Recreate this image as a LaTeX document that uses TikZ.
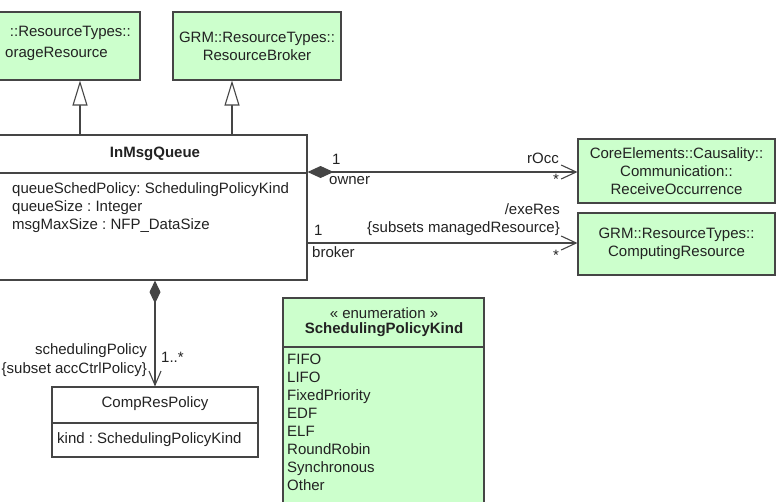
\documentclass[tikz,border=0pt]{standalone}
\usepackage{fontspec}
\setmainfont{Liberation Sans}
\usetikzlibrary{arrows.meta,calc}
\definecolor{boxgreen}{HTML}{CCFFCC}
\definecolor{linegray}{HTML}{454545}
\definecolor{txt}{HTML}{222222}
\frenchspacing
\begin{document}
\begin{tikzpicture}[x=1pt,y=-1pt,
  every node/.style={font=\fontsize{15}{18}\selectfont, text=txt, inner sep=0pt},
  greenbox/.style={draw=linegray, fill=boxgreen, line width=1.1pt, rectangle, align=center},
  whitebox/.style={draw=linegray, fill=white, line width=1.1pt, rectangle},
  conn/.style={draw=linegray, line width=1.1pt},
  gen/.style={conn, -{Triangle[open, length=25pt, width=15pt, fill=white]}},
  assoc/.style={conn, {Diamond[length=26pt, width=12pt]}-{Straight Barb[length=15pt, width=14pt, line width=1.1pt]}},
  plainassoc/.style={conn, -{Straight Barb[length=15pt, width=14pt, line width=1.1pt]}},
  vcomp/.style={conn, {Diamond[length=23pt, width=11pt]}-{Straight Barb[length=14pt, width=12pt, line width=1.1pt]}},
  boldtxt/.style={font=\fontsize{15}{18}\selectfont\bfseries}
]
\useasboundingbox (0,0) rectangle (776,501);
\clip (0,0) rectangle (776,501);

% coordinates for connector positions
\coordinate (g1) at (80,0);
\coordinate (g2) at (232,0);
\coordinate (a1) at (0,172);
\coordinate (a2) at (0,243);
\coordinate (v1) at (155,0);
\coordinate (s1) at (0,173);
\coordinate (s2) at (0,423);
\coordinate (s3) at (0,347);

% boxes
\node[greenbox, minimum width=180pt, minimum height=68pt] (sr) at (50,46) {};
\node[anchor=mid east] (srt1) at (131,34) {::ResourceTypes::};
\node[anchor=mid east] (srt2) at (108,55) {orageResource};
\node[greenbox, minimum width=168pt, minimum height=68pt] (rb) at (257,46) {GRM::ResourceTypes::\\ResourceBroker};
\node[whitebox, minimum width=322pt, minimum height=145pt] (imq) at (146,207.5) {};
\node[greenbox, minimum width=197pt, minimum height=64pt] (ro) at (676.5,171) {CoreElements::Causality::\\Communication::\\ReceiveOccurrence};
\node[greenbox, minimum width=197pt, minimum height=62pt] (cr) at (676.5,244) {GRM::ResourceTypes::\\ComputingResource};
\node[whitebox, minimum width=206pt, minimum height=70pt] (crp) at (155,422) {};
\node[greenbox, minimum width=201pt, minimum height=222pt] (spk) at (383.5,409) {};

% compartments
\draw[conn] (imq.west |- s1) -- (imq.east |- s1);
\draw[conn] (crp.west |- s2) -- (crp.east |- s2);
\draw[conn] (spk.west |- s3) -- (spk.east |- s3);

% InMsgQueue texts
\node[boldtxt] (imqt) at (155,154) {InMsgQueue};
\node[anchor=mid west] (at1) at (12,191) {queueSchedPolicy: SchedulingPolicyKind};
\node[anchor=mid west] (at2) at (12,209) {queueSize : Integer};
\node[anchor=mid west] (at3) at (12,227) {msgMaxSize : NFP\_DataSize};

% CompResPolicy texts
\node (crpt) at (155,404) {CompResPolicy};
\node[anchor=mid west] (crpa) at (57,441) {kind : SchedulingPolicyKind};

% enumeration texts
\node (spks) at (384,313) {« enumeration »};
\node[boldtxt] (spkt) at (384,330) {SchedulingPolicyKind};
\foreach \t [count=\i from 0] in {FIFO,LIFO,FixedPriority,EDF,ELF,RoundRobin,Synchronous,Other}{
  \node[anchor=mid west] (lit\i) at (287,{362+18*\i}) {\t};
}

% generalizations
\draw[gen] (imq.north -| g1) -- (sr.south -| g1);
\draw[gen] (imq.north -| g2) -- (rb.south -| g2);

% associations
\draw[assoc] (imq.east |- a1) -- (ro.west |- a1);
\draw[plainassoc] (imq.east |- a2) -- (cr.west |- a2);
\draw[vcomp] (imq.south -| v1) -- (crp.north -| v1);

% association labels
\node[anchor=mid west] (l1) at (332,162) {1};
\node[anchor=mid west] (l2) at (329,182) {owner};
\node[anchor=mid east] (l3) at (559,161) {rOcc};
\node (l4) at (556,179) {*};
\node[anchor=mid west] (l5) at (314,233) {1};
\node[anchor=mid west] (l6) at (312,255) {broker};
\node[anchor=mid east] (l7) at (560,212) {/exeRes};
\node[anchor=mid east] (l8) at (560,230) {\{subsets managedResource\}};
\node (l9) at (556,255) {*};
\node[anchor=mid east] (l10) at (147,352) {schedulingPolicy};
\node[anchor=mid east] (l11) at (147,371) {\{subset accCtrlPolicy\}};
\node[anchor=mid west] (l12) at (161,360) {1..*};
\end{tikzpicture}
\end{document}
